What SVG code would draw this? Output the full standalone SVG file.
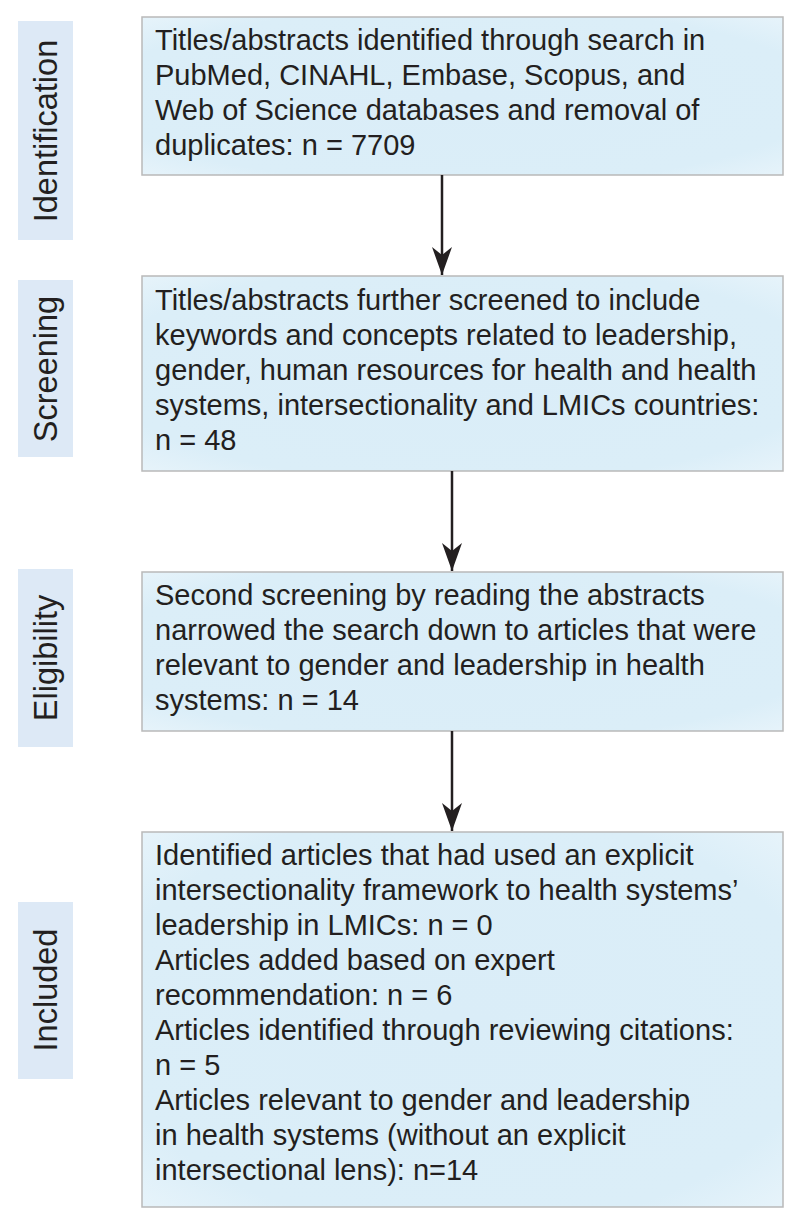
<svg xmlns="http://www.w3.org/2000/svg" width="800" height="1224" viewBox="0 0 800 1224">
<defs>
<radialGradient id="boxfill" cx="50%" cy="50%" r="75%">
<stop offset="0" stop-color="#daedf8"/>
<stop offset="0.75" stop-color="#dbeef8"/>
<stop offset="1" stop-color="#eaf5fb"/>
</radialGradient>
<marker id="arr" markerUnits="userSpaceOnUse" markerWidth="30" markerHeight="22" refX="28" refY="11" orient="auto" viewBox="0 0 30 22">
<path d="M28,11 L0,1 L8,11 L0,21 Z" fill="#231f20"/>
</marker>
<style>
.stage{fill:#dde9f6;}
.box{fill:url(#boxfill);stroke:#b9b9b9;stroke-width:1.5;}
.t{font-family:"Liberation Sans",Arial,sans-serif;font-size:29px;fill:#231f20;}
.v{font-family:"Liberation Sans",Arial,sans-serif;font-size:32.5px;fill:#231f20;text-anchor:middle;}
.conn{stroke:#231f20;stroke-width:2.5;fill:none;}
</style>
</defs>
<rect width="800" height="1224" fill="#ffffff"/>

<g id="stage-identification">
<rect class="stage" x="18" y="21" width="55" height="219"/>
<text class="v" transform="translate(57,131) rotate(-90)">Identification</text>
</g>
<g id="stage-screening">
<rect class="stage" x="18" y="280" width="55" height="177"/>
<text class="v" transform="translate(57,369) rotate(-90)">Screening</text>
</g>
<g id="stage-eligibility">
<rect class="stage" x="18" y="569" width="55" height="178"/>
<text class="v" transform="translate(57,658) rotate(-90)">Eligibility</text>
</g>
<g id="stage-included">
<rect class="stage" x="18" y="902" width="55" height="177"/>
<text class="v" transform="translate(57,990) rotate(-90)">Included</text>
</g>

<g id="box-identification">
<rect class="box" x="142" y="17" width="641" height="158"/>
<text class="t" x="155" y="50">Titles/abstracts identified through search in</text>
<text class="t" x="155" y="85">PubMed, CINAHL, Embase, Scopus, and</text>
<text class="t" x="155" y="120">Web of Science databases and removal of</text>
<text class="t" x="155" y="155">duplicates: n = 7709</text>
</g>
<g id="box-screening">
<rect class="box" x="142" y="276" width="641" height="195"/>
<text class="t" x="155" y="310">Titles/abstracts further screened to include</text>
<text class="t" x="155" y="345">keywords and concepts related to leadership,</text>
<text class="t" x="155" y="380">gender, human resources for health and health</text>
<text class="t" x="155" y="415">systems, intersectionality and LMICs countries:</text>
<text class="t" x="155" y="450">n = 48</text>
</g>
<g id="box-eligibility">
<rect class="box" x="142" y="572" width="641" height="159"/>
<text class="t" x="155" y="605">Second screening by reading the abstracts</text>
<text class="t" x="155" y="640">narrowed the search down to articles that were</text>
<text class="t" x="155" y="675">relevant to gender and leadership in health</text>
<text class="t" x="155" y="710">systems: n = 14</text>
</g>
<g id="box-included">
<rect class="box" x="142" y="832" width="641" height="375"/>
<text class="t" x="155" y="865">Identified articles that had used an explicit</text>
<text class="t" x="155" y="900">intersectionality framework to health systems’</text>
<text class="t" x="155" y="935">leadership in LMICs: n = 0</text>
<text class="t" x="155" y="970">Articles added based on expert</text>
<text class="t" x="155" y="1005">recommendation: n = 6</text>
<text class="t" x="155" y="1040">Articles identified through reviewing citations:</text>
<text class="t" x="155" y="1075">n = 5</text>
<text class="t" x="155" y="1110">Articles relevant to gender and leadership</text>
<text class="t" x="155" y="1145">in health systems (without an explicit</text>
<text class="t" x="155" y="1180">intersectional lens): n=14</text>
</g>

<g id="connectors">
<line class="conn" x1="442" y1="175" x2="442" y2="275" marker-end="url(#arr)"/>
<line class="conn" x1="452" y1="471" x2="452" y2="571" marker-end="url(#arr)"/>
<line class="conn" x1="452" y1="731" x2="452" y2="831" marker-end="url(#arr)"/>
</g>
</svg>
